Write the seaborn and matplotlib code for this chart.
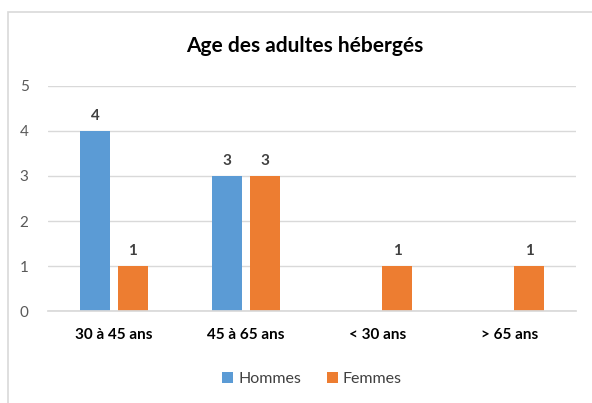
import numpy as np
import pandas as pd
import matplotlib
matplotlib.use("Agg")
import matplotlib.pyplot as plt
import seaborn as sns
from matplotlib.patches import Rectangle

categories = ["30 à 45 ans", "45 à 65 ans", "< 30 ans", "> 65 ans"]
hommes = [4, 3, np.nan, np.nan]
femmes = [1, 3, 1, 1]
series_names = ["Hommes", "Femmes"]
title = "Age des adultes hébergés"

sns.set_theme(style="white")
plt.rcParams['font.family'] = ['Liberation Sans Narrow', 'Lato', 'DejaVu Sans']

df = pd.DataFrame({
    "cat": categories * 2,
    "val": hommes + femmes,
    "serie": [series_names[0]] * 4 + [series_names[1]] * 4,
})

fig = plt.figure(figsize=(5.92, 4.03), dpi=100)
ax = fig.add_axes([0.081, 0.228, 0.892, 0.559])
sns.barplot(data=df, x="cat", y="val", hue="serie", order=categories,
            palette=["#5B9BD5", "#ED7D31"], width=0.576, gap=0.21,
            ax=ax, legend=True, saturation=1, linewidth=0)

ax.set_ylim(0, 5)
ax.set_yticks(range(0, 6))
ax.set_xlim(-0.5, 3.5)
ax.grid(axis="y", color="#D9D9D9", linewidth=1)
ax.set_axisbelow(True)
for s in ["top", "right", "left"]:
    ax.spines[s].set_visible(False)
ax.spines["bottom"].set_color("#D9D9D9")
ax.set_xlabel("")
ax.set_ylabel("")
ax.tick_params(axis="y", colors="#595959", labelsize=11, length=0, pad=14)
ax.tick_params(axis="x", length=0, pad=12)
for lbl in ax.get_xticklabels():
    lbl.set_fontweight("bold")
    lbl.set_fontsize(11)
    lbl.set_color("black")

for c in ax.containers:
    labels = ["" if (np.isnan(v) or v == 0) else f"{v:g}" for v in c.datavalues]
    ax.bar_label(c, labels=labels, padding=6, fontsize=11, fontweight="bold", color="#404040")

leg = ax.legend(loc="upper center", bbox_to_anchor=(0.5, -0.205), ncol=2, frameon=False,
                fontsize=11.5, handlelength=0.7, handleheight=0.7, handletextpad=0.3,
                columnspacing=1.6)
for t in leg.get_texts():
    t.set_color("#404040")

fig.text(0.515, 0.885, title, ha="center", va="center", fontsize=15, fontweight="bold", color="black")

fig.patches.append(Rectangle((8/592, -0.05), 1.0, 1 - 12/403 + 0.05, transform=fig.transFigure,
                             fill=False, edgecolor="#D9D9D9", linewidth=1.2))

fig.savefig("out.png", dpi=100)
